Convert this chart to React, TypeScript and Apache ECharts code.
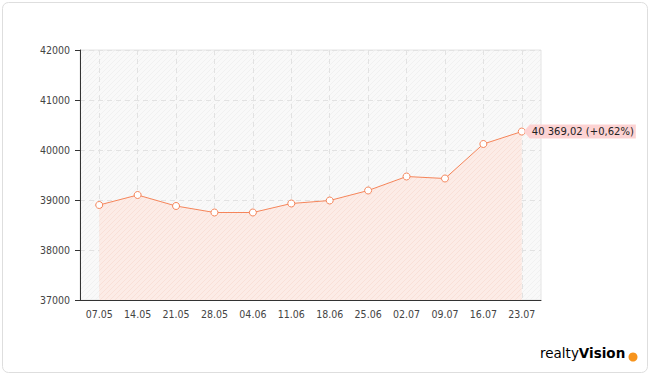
import React, { useEffect, useRef } from "react";
import * as echarts from "echarts";

const categories = ["07.05", "14.05", "21.05", "28.05", "04.06", "11.06", "18.06", "25.06", "02.07", "09.07", "16.07", "23.07"];
const values = [38900, 39100, 38880, 38750, 38750, 38930, 38990, 39190, 39470, 39430, 40120, 40369.02];
const yMin = 37000;
const yMax = 42000;
const yStep = 1000;

const FONT = "DejaVu Sans";
const AXIS_FONT = "DejaVu Sans Condensed, DejaVu Sans";

function hatch(bg: string, line: string): any {
  const c = document.createElement("canvas");
  c.width = 5;
  c.height = 5;
  const ctx = c.getContext("2d")!;
  ctx.fillStyle = bg;
  ctx.fillRect(0, 0, 5, 5);
  ctx.strokeStyle = line;
  ctx.lineWidth = 1;
  ctx.beginPath();
  ctx.moveTo(-1, 6);
  ctx.lineTo(6, -1);
  ctx.stroke();
  return { image: c, repeat: "repeat" };
}

function fmtNum(v: number): string {
  const [i, d] = v.toFixed(2).split(".");
  return i.replace(/\B(?=(\d{3})+(?!\d))/g, " ") + "," + d;
}

export default function App() {
  const ref = useRef<HTMLDivElement>(null);
  useEffect(() => {
    if (!ref.current) return;
    const chart = echarts.init(ref.current, undefined, { renderer: "svg" });
    const n = values.length;
    const last = values[n - 1];
    const prev = values[n - 2];
    const pct = ((last - prev) / prev) * 100;
    const labelText = `${fmtNum(last)} (${pct >= 0 ? "+" : ""}${pct.toFixed(2).replace(".", ",")}%)`;
    chart.setOption({
      animation: false,
      grid: {
        left: 80,
        right: 109,
        top: 50,
        bottom: 75,
        show: true,
        backgroundColor: hatch("#f9f9f9", "#f1f1f1"),
        borderColor: "#e4e4e4",
        borderWidth: 1,
      },
      xAxis: {
        type: "category",
        data: categories,
        boundaryGap: true,
        axisLine: { lineStyle: { color: "#333", width: 1 } },
        axisTick: { alignWithLabel: true, length: 5, lineStyle: { color: "#333" } },
        axisLabel: { color: "#444", fontFamily: AXIS_FONT, fontSize: 10.5, margin: 8 },
        splitLine: { show: true, alignWithLabel: true, lineStyle: { color: "#e2e2e2", type: [5, 4] } },
      },
      yAxis: {
        type: "value",
        min: yMin,
        max: yMax,
        interval: yStep,
        axisLine: { show: true, lineStyle: { color: "#333", width: 1 } },
        axisTick: { show: true, length: 5, lineStyle: { color: "#333" } },
        axisLabel: { color: "#444", fontFamily: AXIS_FONT, fontSize: 10.5, margin: 10, formatter: (v: number) => String(v) },
        splitLine: { show: true, lineStyle: { color: "#e2e2e2", type: [5, 4] } },
      },
      series: [
        {
          type: "line",
          data: values,
          symbol: "circle",
          symbolSize: 7,
          showAllSymbol: true,
          lineStyle: { color: "#f5855a", width: 1 },
          itemStyle: { color: "#ffffff", borderColor: "#f5855a", borderWidth: 1 },
          areaStyle: { color: hatch("#fcece7", "#f9e0d8"), opacity: 1 },
          emphasis: { disabled: true },
          z: 3,
          markPoint: {
            silent: true,
            symbol: "path://M0,7 L6,0 L112,0 L112,14 L6,14 Z",
            symbolSize: [112, 14],
            symbolKeepAspect: false,
            symbolOffset: [58, 0],
            itemStyle: { color: "#fdd3d3" },
            label: {
              show: true,
              position: "inside",
              offset: [3, 0],
              formatter: labelText,
              color: "#222",
              fontFamily: FONT,
              fontSize: 10,
            },
            data: [{ coord: [categories[n - 1], last], value: last }],
          },
        },
      ],
      graphic: [
        {
          type: "rect",
          z: -10,
          shape: { x: 2.5, y: 2.5, width: 645, height: 370, r: 6 },
          style: { fill: "#fff", stroke: "#dedede", lineWidth: 1 },
        },
        {
          type: "text",
          left: 540,
          top: 346,
          style: {
            text: "{a|realty}{b|Vision}",
            rich: {
              a: { fontFamily: FONT, fontSize: 13.5, color: "#333" },
              b: { fontFamily: FONT, fontSize: 13.5, fontWeight: "bold", color: "#222" },
            },
          },
        },
        {
          type: "circle",
          shape: { cx: 633, cy: 357, r: 4.5 },
          style: { fill: "#f7941d" },
        },
      ],
    });
    return () => chart.dispose();
  }, []);
  return (
    <div
      ref={ref}
      style={{ position: "absolute", left: 0, top: 0, width: 650, height: 375, background: "#fff" }}
    />
  );
}
